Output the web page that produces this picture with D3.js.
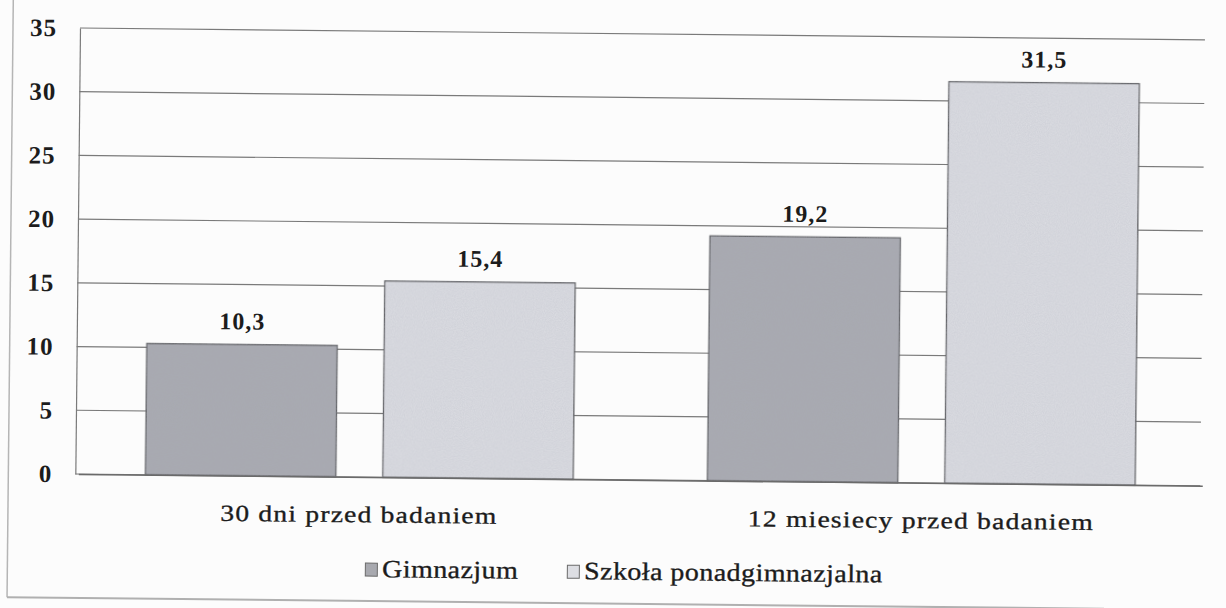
<!DOCTYPE html>
<html>
<head>
<meta charset="utf-8">
<script src="https://cdn.jsdelivr.net/npm/d3@7"></script>
<style>
  body { margin: 0; background: #fcfcfc; }
  svg { display: block; }
  svg text { font-family: "Liberation Serif", "Times New Roman", serif; fill: #1c1c1c; }
</style>
</head>
<body>
<div class="chart"></div>
<script>
const categories = ["30 dni przed badaniem", "12 miesiecy przed badaniem"]
const series = ["Gimnazjum", "Szkoła ponadgimnazjalna"]
const gimnazjum = [10.3, 19.2]
const szkola = [15.4, 31.5]
const yTicks = [0, 5, 10, 15, 20, 25, 30, 35]
const colors = ["#a8a9af", "#dddee3"]

const W = 1226, H = 608
const mLeft = 80, mRight = 1205, mTop = 28, mBottom = 474
const serif = "'Liberation Serif', 'Times New Roman', serif"

const svg = d3.select(".chart").append("svg")
  .attr("width", W).attr("height", H)

// grain of the scanned print
const defs = svg.append("defs")
const f = defs.append("filter").attr("id", "grain")
f.append("feTurbulence").attr("type", "fractalNoise").attr("baseFrequency", 0.9)
  .attr("numOctaves", 2).attr("seed", 3).attr("result", "noise")
f.append("feColorMatrix").attr("in", "noise").attr("type", "matrix")
  .attr("values", "0 0 0 0 0.4  0 0 0 0 0.42  0 0 0 0 0.5  0 0 0 0.35 0")
  .attr("result", "tint")
f.append("feComposite").attr("in", "tint").attr("in2", "SourceGraphic").attr("operator", "in").attr("result", "g")
f.append("feMerge").call(m => {
  m.append("feMergeNode").attr("in", "SourceGraphic")
  m.append("feMergeNode").attr("in", "g")
})

// whole page is slightly tilted, like the scan
const g = svg.append("g").attr("transform", `rotate(0.6, ${mLeft}, ${mTop})`)

const values = [gimnazjum, szkola]
const data = categories.map((c, i) => ({ cat: c, vals: series.map((s, j) => ({ s, j, v: values[j][i] })) }))

const x0 = d3.scaleBand().domain(categories).range([mLeft + 3, mRight + 2]).padding(0)
const x1 = d3.scaleBand().domain(series).range([0, x0.bandwidth()])
  .paddingInner(0.198).paddingOuter(0.283)
const y = d3.scaleLinear().domain([0, 35]).range([mBottom, mTop])

// frame
g.append("line").attr("x1", 13).attr("x2", 13).attr("y1", -10).attr("y2", 598)
  .attr("stroke", "#b5b5b5").attr("stroke-width", 1.5)
g.append("line").attr("x1", 13).attr("x2", 1110).attr("y1", 598).attr("y2", 598)
  .attr("stroke", "#b0b0b0").attr("stroke-width", 2)

// grid
g.append("g").selectAll("line").data(yTicks).join("line")
  .attr("x1", mLeft).attr("x2", mRight)
  .attr("y1", d => y(d)).attr("y2", d => y(d))
  .attr("stroke", "#7a7a7a").attr("stroke-width", 1.2)

const yAxis = d3.axisLeft(y).tickValues(yTicks).tickSize(0).tickPadding(23)
g.append("g").attr("transform", `translate(${mLeft},0)`).call(yAxis)
  .attr("font-family", serif)
  .call(a => a.select(".domain").attr("stroke", "#7a7a7a").attr("stroke-width", 1.2))
  .call(a => a.selectAll("text").attr("font-family", serif).style("font-size", "25px")
    .style("font-weight", "bold").style("letter-spacing", "1px").attr("fill", "#1c1c1c"))

// bars
const grp = g.append("g").selectAll("g").data(data).join("g")
  .attr("transform", d => `translate(${x0(d.cat)},0)`)

grp.selectAll("rect").data(d => d.vals).join("rect")
  .attr("x", d => x1(d.s)).attr("width", x1.bandwidth())
  .attr("y", d => y(d.v)).attr("height", d => y(0) - y(d.v))
  .attr("fill", d => colors[d.j]).attr("stroke", "#555").attr("stroke-width", 1.3)
  .attr("filter", "url(#grain)")

grp.selectAll("text.val").data(d => d.vals).join("text").attr("class", "val")
  .attr("x", d => x1(d.s) + x1.bandwidth() / 2).attr("y", d => y(d.v) - 15)
  .attr("text-anchor", "middle").attr("font-family", serif)
  .style("font-size", "24px").style("font-weight", "bold").style("letter-spacing", "1px")
  .text(d => d3.format(".1f")(d.v).replace(".", ","))

// category axis (scanned text is a bit wider and heavier)
const xAxis = d3.axisBottom(x0).tickSize(0).tickPadding(29)
g.append("g").attr("transform", `translate(0,${mBottom})`).call(xAxis)
  .attr("font-family", serif)
  .call(a => a.select(".domain").attr("stroke", "#6a6a6a").attr("stroke-width", 1.4))
  .call(a => a.selectAll("text").attr("font-family", serif).style("font-size", "23px")
    .style("letter-spacing", "1px").attr("transform", "scale(1.2,1)")
    .attr("fill", "#1c1c1c").attr("stroke", "#1c1c1c").attr("stroke-width", 0.35))

// legend
const legendX = [371, 573]
const lg = g.append("g").selectAll("g").data(series).join("g")
  .attr("transform", (d, i) => `translate(${legendX[i]},574)`)
lg.append("rect").attr("x", 0).attr("y", -14).attr("width", 12).attr("height", 13)
  .attr("fill", (d, i) => colors[i]).attr("stroke", "#6a6a6a").attr("stroke-width", 1)
lg.append("text").attr("x", 15).attr("y", 0).attr("font-family", serif)
  .attr("transform", "scale(1.12,1)")
  .style("font-size", "25px").style("letter-spacing", "0.4px")
  .attr("stroke", "#1c1c1c").attr("stroke-width", 0.35)
  .text(d => d)
</script>
</body>
</html>
